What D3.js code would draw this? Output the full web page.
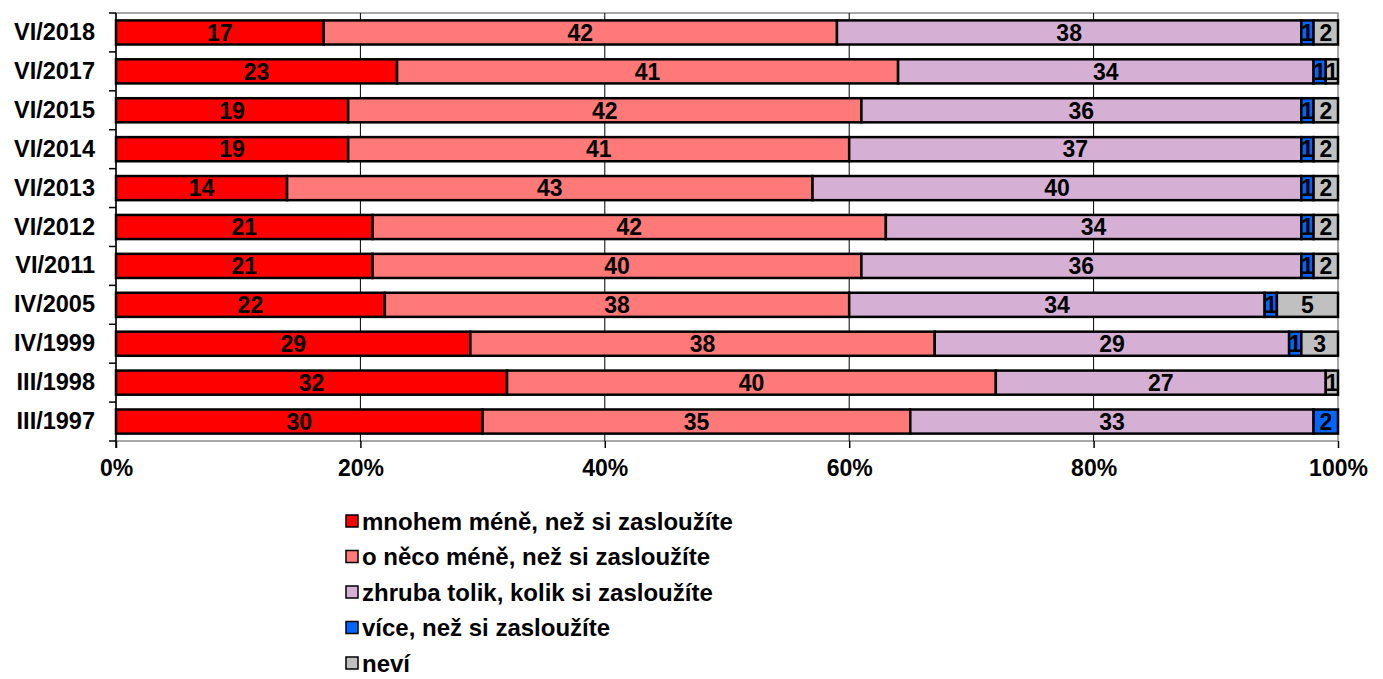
<!DOCTYPE html>
<html>
<head>
<meta charset="utf-8">
<script src="https://cdn.jsdelivr.net/npm/d3@7"></script>
<style>
  body { margin: 0; background: #fff; }
  svg { display: block; font-family: "Liberation Sans", Arial, sans-serif; font-weight: bold; }
</style>
</head>
<body>
<svg id="chart" width="1383" height="679"></svg>
<script>
// categories, top to bottom
var waves = ["VI/2018", "VI/2017", "VI/2015", "VI/2014", "VI/2013", "VI/2012",
             "VI/2011", "IV/2005", "IV/1999", "III/1998", "III/1997"];

// answer series (percent)
var seriesNames = ["mnohem méně, než si zasloužíte", "o něco méně, než si zasloužíte",
                   "zhruba tolik, kolik si zasloužíte", "více, než si zasloužíte", "neví"];
var muchLess  = [17, 23, 19, 19, 14, 21, 21, 22, 29, 32, 30];
var bitLess   = [42, 41, 42, 41, 43, 42, 40, 38, 38, 40, 35];
var aboutSame = [38, 34, 36, 37, 40, 34, 36, 34, 29, 27, 33];
var more      = [1, 1, 1, 1, 1, 1, 1, 1, 1, 0, 2];
var dontKnow  = [2, 1, 2, 2, 2, 2, 2, 5, 3, 1, 0];

var xTicks = [0, 20, 40, 60, 80, 100];
var colors = ["#ff0000", "#ff7979", "#d6b0d4", "#0066ff", "#c0c0c0"];

var svg = d3.select("#chart");
var margin = {left: 116, right: 45, top: 13, bottom: 238};
var width = 1383 - margin.left - margin.right;
var height = 679 - margin.top - margin.bottom;

var series = [muchLess, bitLess, aboutSame, more, dontKnow];
var rows = waves.map(function(w, i) {
    var r = {wave: w};
    series.forEach(function(s, k) { r["s" + k] = s[i]; });
    return r;
});
var keys = series.map(function(s, k) { return "s" + k; });
var stacked = d3.stack().keys(keys)(rows);

var x = d3.scaleLinear().domain([0, 100]).range([0, width]);
var y = d3.scaleBand().domain(waves).range([0, height]).paddingInner(0.38).paddingOuter(0.19);

var g = svg.append("g").attr("transform", "translate(" + margin.left + "," + margin.top + ")");

// plot frame (gray)
g.append("rect").attr("x", 0).attr("y", 0).attr("width", width).attr("height", height)
    .attr("fill", "none").attr("stroke", "#8c8c8c").attr("stroke-width", 1.5);

// vertical gridlines
g.selectAll(".grid").data(xTicks.slice(1, -1)).enter().append("line")
    .attr("x1", function(d) { return x(d); }).attr("x2", function(d) { return x(d); })
    .attr("y1", 0).attr("y2", height)
    .attr("stroke", "#000").attr("stroke-width", 1);

// bars
var layer = g.selectAll(".layer").data(stacked).enter().append("g")
    .attr("fill", function(d, i) { return colors[i]; });

layer.selectAll("rect").data(function(d) { return d.filter(function(p) { return p[1] > p[0]; }); })
    .enter().append("rect")
    .attr("x", function(d) { return x(d[0]); })
    .attr("y", function(d) { return y(d.data.wave); })
    .attr("width", function(d) { return x(d[1]) - x(d[0]); })
    .attr("height", y.bandwidth())
    .attr("stroke", "#000").attr("stroke-width", 2.5);

// value labels
layer.selectAll("text").data(function(d) { return d.filter(function(p) { return p[1] > p[0]; }); })
    .enter().append("text")
    .attr("x", function(d) { return x((d[0] + d[1]) / 2); })
    .attr("y", function(d) { return y(d.data.wave) + y.bandwidth() / 2; })
    .attr("dy", "0.36em")
    .attr("text-anchor", "middle")
    .attr("fill", "#000")
    .attr("font-size", 23)
    .text(function(d) { return d[1] - d[0]; });

// y axis
var yAxis = g.append("g").call(d3.axisLeft(y).tickSize(0).tickPadding(21));
yAxis.select(".domain").attr("stroke", "#000").attr("stroke-width", 1.5)
    .attr("d", "M0,0V" + (height + 7));
yAxis.selectAll("text").attr("font-size", 23.5).attr("fill", "#000").attr("font-family", null);
// tick marks between categories
var bounds = d3.range(waves.length + 1).map(function(i) { return i * height / waves.length; });
g.selectAll(".ytick").data(bounds).enter().append("line")
    .attr("x1", -7).attr("x2", 0)
    .attr("y1", function(d) { return d; }).attr("y2", function(d) { return d; })
    .attr("stroke", "#000").attr("stroke-width", 1.5);

// x axis
var xAxis = g.append("g").attr("transform", "translate(0," + height + ")")
    .call(d3.axisBottom(x).tickValues(xTicks).tickSize(7).tickPadding(12)
        .tickFormat(function(d) { return d + "%"; }));
xAxis.select(".domain").remove();
xAxis.selectAll("line").attr("stroke", "#000").attr("stroke-width", 1.5);
xAxis.selectAll("text").attr("font-size", 23).attr("fill", "#000").attr("font-family", null);

// legend
var legend = svg.append("g").attr("transform", "translate(346,521)");
var item = legend.selectAll(".item").data(seriesNames).enter().append("g")
    .attr("transform", function(d, i) { return "translate(0," + (i * 35.5) + ")"; });
item.append("rect").attr("x", 0).attr("y", -6).attr("width", 12).attr("height", 12)
    .attr("fill", function(d, i) { return colors[i]; })
    .attr("stroke", "#000").attr("stroke-width", 1.5);
item.append("text").attr("x", 16).attr("y", 0).attr("dy", "0.36em")
    .attr("font-size", 24).attr("fill", "#000")
    .text(function(d) { return d; });
</script>
</body>
</html>
